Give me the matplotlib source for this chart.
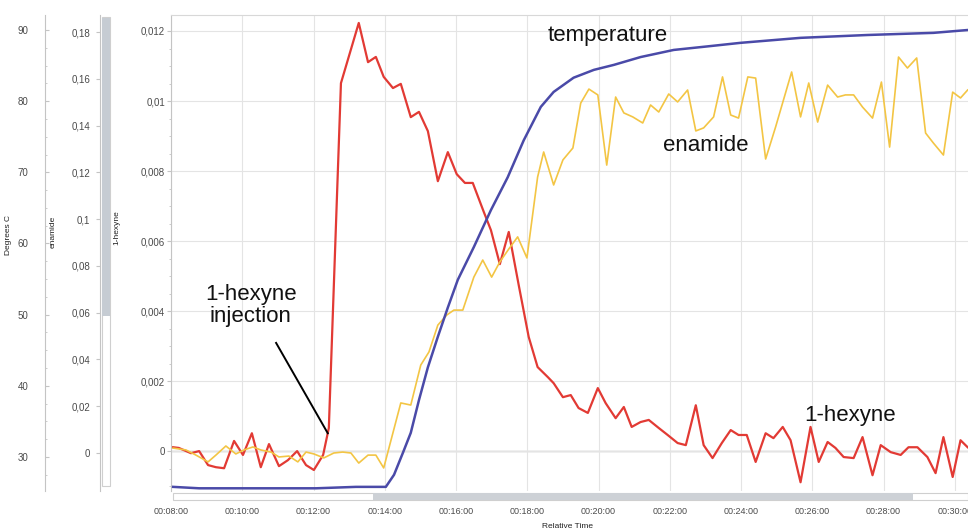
import matplotlib
matplotlib.use("Agg")
import matplotlib.pyplot as plt
from matplotlib.ticker import FuncFormatter, AutoMinorLocator
from matplotlib.patches import Rectangle

plt.rcParams['font.family'] = ['Liberation Sans', 'DejaVu Sans']

# relative time in minutes
hex_time = [8.06, 8.22, 8.56, 8.79, 9.04, 9.26, 9.49, 9.77, 10.02, 10.27, 10.52, 10.75,
            11.03, 11.28, 11.54, 11.79, 12.01, 12.27, 12.43, 12.77, 13.27, 13.53, 13.75,
            13.97, 14.23, 14.45, 14.73, 14.96, 15.21, 15.49, 15.77, 16.02, 16.25, 16.47,
            16.78, 16.98, 17.23, 17.48, 17.76, 18.04, 18.29, 18.58, 18.74, 19.00, 19.22,
            19.44, 19.70, 19.98, 20.20, 20.48, 20.71, 20.93, 21.18, 21.41, 21.69, 21.94,
            22.22, 22.45, 22.73, 22.95, 23.20, 23.46, 23.71, 23.93, 24.16, 24.41, 24.69,
            24.91, 25.17, 25.39, 25.67, 25.95, 26.18, 26.43, 26.65, 26.88, 27.16, 27.41,
            27.69, 27.92, 28.20, 28.48, 28.70, 28.95, 29.23, 29.46, 29.68, 29.94, 30.16,
            30.36]
hexyne = [0.00011, 0.00009, -0.00006, 0.0, -0.00040, -0.00046, -0.00049, 0.00029,
          -0.00011, 0.00051, -0.00046, 0.00020, -0.00043, -0.00026, 0.0, -0.00040,
          -0.00054, -0.00011, 0.00066, 0.01051, 0.01223, 0.01111, 0.01126, 0.01069,
          0.01037, 0.01049, 0.00954, 0.00969, 0.00914, 0.00771, 0.00854, 0.00791,
          0.00766, 0.00766, 0.00683, 0.00631, 0.00534, 0.00626, 0.00474, 0.00326,
          0.00240, 0.00211, 0.00194, 0.00154, 0.00160, 0.00123, 0.00109, 0.00180,
          0.00137, 0.00094, 0.00126, 0.00069, 0.00083, 0.00089, 0.00066, 0.00046,
          0.00023, 0.00017, 0.00131, 0.00017, -0.00020, 0.00023, 0.00060, 0.00046,
          0.00046, -0.00031, 0.00051, 0.00037, 0.00069, 0.00031, -0.00089, 0.00069,
          -0.00031, 0.00026, 0.00009, -0.00017, -0.00020, 0.00040, -0.00069, 0.00017,
          -0.00003, -0.00011, 0.00011, 0.00011, -0.00017, -0.00063, 0.00040, -0.00074,
          0.00031, 0.00011]

en_time = [8.06, 8.42, 8.70, 9.04, 9.26, 9.54, 9.82, 10.05, 10.30, 10.52, 10.81, 11.03,
           11.31, 11.56, 11.79, 12.01, 12.29, 12.57, 12.82, 13.05, 13.27, 13.53, 13.75,
           13.97, 14.45, 14.73, 15.01, 15.24, 15.49, 15.74, 15.94, 16.19, 16.50, 16.75,
           17.00, 17.23, 17.48, 17.73, 17.99, 18.29, 18.46, 18.74, 19.00, 19.28, 19.50,
           19.73, 19.98, 20.23, 20.48, 20.71, 20.96, 21.24, 21.46, 21.69, 21.97, 22.22,
           22.50, 22.73, 22.95, 23.23, 23.48, 23.71, 23.93, 24.19, 24.41, 24.69, 24.97,
           25.19, 25.42, 25.67, 25.90, 26.15, 26.43, 26.71, 26.93, 27.16, 27.41, 27.69,
           27.94, 28.17, 28.42, 28.67, 28.93, 29.18, 29.40, 29.68, 29.94, 30.16, 30.36]
enamide = [0.0021, 0.0013, -0.0009, -0.0038, -0.0009, 0.0030, -0.0004, 0.0013, 0.0026,
           0.0013, 0.0004, -0.0017, -0.0013, -0.0038, 0.0004, -0.0004, -0.0021, 0.0,
           0.0004, 0.0, -0.0043, -0.0009, -0.0009, -0.0064, 0.0214, 0.0205, 0.0376,
           0.0432, 0.0547, 0.0590, 0.0611, 0.0611, 0.0752, 0.0825, 0.0752, 0.0817,
           0.0872, 0.0924, 0.0834, 0.1180, 0.1287, 0.1146, 0.1253, 0.1304, 0.1496,
           0.1556, 0.1531, 0.1231, 0.1522, 0.1454, 0.1437, 0.1411, 0.1488, 0.1458,
           0.1535, 0.1501, 0.1552, 0.1377, 0.1390, 0.1437, 0.1608, 0.1445, 0.1432,
           0.1608, 0.1603, 0.1257, 0.1394, 0.1509, 0.1629, 0.1437, 0.1582, 0.1415,
           0.1573, 0.1522, 0.1531, 0.1531, 0.1479, 0.1432, 0.1586, 0.1308, 0.1693,
           0.1646, 0.1689, 0.1368, 0.1325, 0.1274, 0.1543, 0.1518, 0.1552]

temp_time = [8.06, 8.79, 9.74, 11.14, 12.07, 13.19, 14.03, 14.26, 14.51, 14.73, 14.96,
             15.21, 15.49, 15.77, 16.05, 16.50, 16.98, 17.45, 17.90, 18.38, 18.74, 19.30,
             19.87, 20.43, 21.18, 22.11, 23.06, 23.99, 25.67, 27.55, 29.40, 30.36]
temperature = [25.8, 25.6, 25.6, 25.6, 25.6, 25.8, 25.8, 27.5, 30.6, 33.4, 38.0, 42.6,
               46.9, 51.0, 54.9, 59.5, 64.7, 69.3, 74.5, 79.2, 81.3, 83.3, 84.4, 85.1,
               86.2, 87.2, 87.7, 88.2, 88.9, 89.3, 89.6, 90.0]

time_ticks = [8, 10, 12, 14, 16, 18, 20, 22, 24, 26, 28, 30]
hex_ticks = [0, 0.002, 0.004, 0.006, 0.008, 0.01, 0.012]
en_ticks = [0, 0.02, 0.04, 0.06, 0.08, 0.1, 0.12, 0.14, 0.16, 0.18]
temp_ticks = [30, 40, 50, 60, 70, 80, 90]

RED = '#e23a34'
YELLOW = '#f3c544'
BLUE = '#4a4aa8'
SPINE = '#c4c4c4'
TXT = '#4a4a4a'

W, H = 968, 531


def fx(x):
    return x / W


def fy(y):
    return 1 - y / H


def comma(v, pos):
    return ('%g' % round(v, 4)).replace('.', ',')


fig = plt.figure(figsize=(W / 100, H / 100), dpi=100)
left, right, top, bottom = 171, 968, 15, 491
ax = fig.add_axes([fx(left), fy(bottom), fx(right - left), (bottom - top) / H])
ax_en = ax.twinx()
ax_t = ax.twinx()

# main axis: 1-hexyne
ax.plot(hex_time, hexyne, color=RED, lw=1.6, zorder=4)
ax.set_xlim(8, 30.37)
ax.set_ylim(-0.00114, 0.012457)
ax.set_yticks(hex_ticks)
ax.yaxis.set_major_formatter(FuncFormatter(comma))
ax.yaxis.set_minor_locator(AutoMinorLocator(4))
ax.set_xticks(time_ticks)
ax.xaxis.set_major_formatter(FuncFormatter(lambda m, p: '00:%02d:00' % int(m)))
ax.grid(True, color='#e4e4e4', lw=0.8)
ax.axhline(0, color='#b5b5b5', lw=1.0, zorder=1)
ax.tick_params(axis='x', length=0, pad=11.5, labelsize=6.5, labelcolor=TXT)
ax.tick_params(axis='y', which='major', length=3, pad=1.3, labelsize=7, labelcolor=TXT, color=SPINE)
ax.tick_params(axis='y', which='minor', length=1.5, color=SPINE)
for s in ['right', 'bottom']:
    ax.spines[s].set_visible(False)
ax.spines['left'].set_color(SPINE)
ax.spines['top'].set_color('#d8d8d8')
ax.set_ylabel('1-hexyne', fontsize=6, color='#222')
ax.yaxis.set_label_coords((120 - left) / (right - left), (bottom - 228) / (bottom - top))

# enamide axis
ax_en.plot(en_time, enamide, color=YELLOW, lw=1.2, zorder=3)
ax_en.set_ylim(-0.016247, 0.18727)
ax_en.set_yticks(en_ticks)
ax_en.yaxis.set_major_formatter(FuncFormatter(comma))
ax_en.yaxis.set_ticks_position('left')
ax_en.yaxis.set_label_position('left')
ax_en.spines['left'].set_position(('axes', (100 - left) / (right - left)))
for s in ['right', 'top', 'bottom']:
    ax_en.spines[s].set_visible(False)
ax_en.spines['left'].set_color(SPINE)
ax_en.tick_params(axis='y', length=3, pad=4.2, labelsize=7, labelcolor=TXT, color=SPINE)
ax_en.set_ylabel('enamide', fontsize=6, color='#222')
ax_en.yaxis.set_label_coords((57 - left) / (right - left), (bottom - 232) / (bottom - top))

# temperature axis
ax_t.plot(temp_time, temperature, color=BLUE, lw=1.8, zorder=3)
ax_t.set_ylim(25.22, 92.11)
ax_t.set_yticks(temp_ticks)
ax_t.yaxis.set_minor_locator(AutoMinorLocator(4))
ax_t.yaxis.set_ticks_position('left')
ax_t.yaxis.set_label_position('left')
ax_t.spines['left'].set_position(('axes', (45 - left) / (right - left)))
for s in ['right', 'top', 'bottom']:
    ax_t.spines[s].set_visible(False)
ax_t.spines['left'].set_color(SPINE)
ax_t.tick_params(axis='y', which='major', direction='in', length=3, pad=12, labelsize=7,
                 labelcolor=TXT, color=SPINE)
ax_t.tick_params(axis='y', which='minor', direction='in', length=1.5, color=SPINE)
ax_t.set_ylabel('Degrees C', fontsize=6, color='#222')
ax_t.yaxis.set_label_coords((12 - left) / (right - left), (bottom - 235) / (bottom - top))

# labels on the curves
lab = dict(fontsize=16, color='#111', ha='center', va='center')
ax.text(20.26, 0.01186, 'temperature', **lab)
ax.text(23.0, 0.00874, 'enamide', **lab)
ax.text(27.07, 0.00103, '1-hexyne', **lab)
ax.text(10.24, 0.00417, '1-hexyne\ninjection', linespacing=1.05, **lab)
ax.plot([10.95, 12.40], [0.00309, 0.00051], color='black', lw=1.4, zorder=5)

# scroll bars of the original viewer
fig.patches.append(Rectangle((fx(173), fy(500)), fx(968 - 173), 7 / H, transform=fig.transFigure,
                             facecolor='white', edgecolor='#cfcfcf', lw=0.8))
fig.patches.append(Rectangle((fx(373), fy(500)), fx(913 - 373), 7 / H, transform=fig.transFigure,
                             facecolor='#cdd1d6', edgecolor='none'))
fig.patches.append(Rectangle((fx(102), fy(486)), fx(8), 469 / H, transform=fig.transFigure,
                             facecolor='white', edgecolor='#cfcfcf', lw=0.8))
fig.patches.append(Rectangle((fx(102), fy(316)), fx(8), 298 / H, transform=fig.transFigure,
                             facecolor='#c6ccd3', edgecolor='none'))

fig.text(fx(568), fy(527), 'Relative Time', fontsize=6, color='#222', ha='center', va='center')

fig.savefig('out.png', dpi=100)
